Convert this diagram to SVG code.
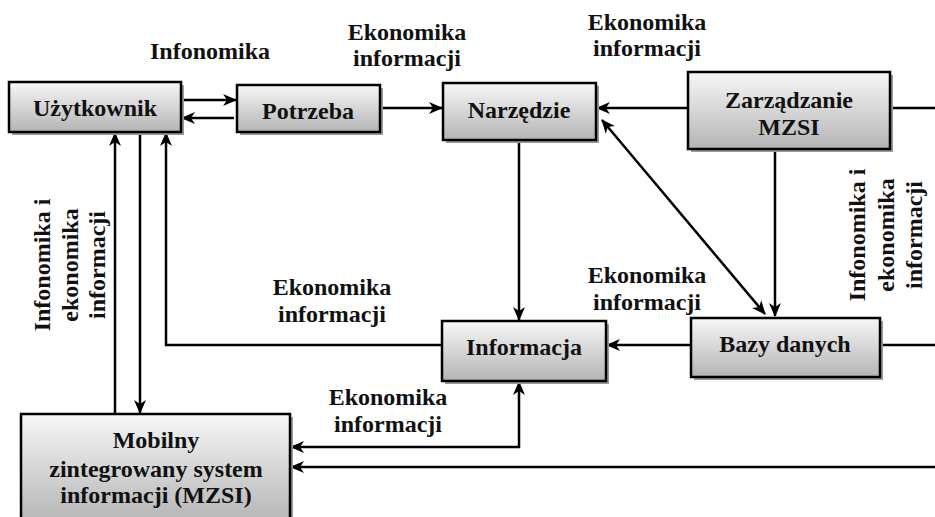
<svg xmlns="http://www.w3.org/2000/svg" width="935" height="517" viewBox="0 0 935 517" font-family="'Liberation Serif', 'DejaVu Serif', 'Times New Roman', serif">
<defs>
<linearGradient id="g" x1="0" y1="0" x2="0" y2="1">
<stop offset="0" stop-color="#f7f7f7"/>
<stop offset="1" stop-color="#b4b4b4"/>
</linearGradient>
<marker id="ah" markerUnits="userSpaceOnUse" markerWidth="16" markerHeight="16" viewBox="0 0 16 16" refX="14" refY="8" orient="auto-start-reverse">
<path d="M1,2 L15,8 L1,14 L5,8 z" fill="#000"/>
</marker>
</defs>
<style>
.box rect.b{fill:url(#g);stroke:#000;stroke-width:2.5}
.box rect.s{fill:#9a9a9a;stroke:none}
text{font-family:'Liberation Serif','DejaVu Serif','Times New Roman',serif;font-weight:bold;font-size:24px;fill:#111;text-anchor:middle}
#connectors path{fill:none;stroke:#000;stroke-width:2.5}
.a{marker-end:url(#ah)}
.d{marker-start:url(#ah);marker-end:url(#ah)}
</style>
<rect width="935" height="517" fill="#fff"/>

<g id="connectors">
<path class="a" d="M181,100 H236"/>
<path class="a" d="M234,118 H182"/>
<path class="a" d="M380,108 H442"/>
<path class="a" d="M688,108 H597"/>
<path d="M890,108 H935"/>
<path class="a" d="M775,149 V316"/>
<path class="d" d="M602,120 L765,314"/>
<path class="a" d="M519,140 V320"/>
<path class="a" d="M691,345 H607"/>
<path d="M880,345 H935"/>
<path class="a" d="M442,345 H166 V133"/>
<path class="a" d="M115,414 V133"/>
<path class="a" d="M140,132 V413"/>
<path class="d" d="M519,382 V447 H291"/>
<path class="a" d="M935,467 H291"/>
</g>

<g id="uzytkownik" class="box">
<rect class="s" x="12" y="85" width="172" height="50"/>
<rect class="b" x="9" y="82" width="172" height="50"/>
<text x="95" y="116">Użytkownik</text>
</g>
<g id="potrzeba" class="box">
<rect class="s" x="240" y="88" width="143" height="47"/>
<rect class="b" x="237" y="85" width="143" height="47"/>
<text x="308" y="119">Potrzeba</text>
</g>
<g id="narzedzie" class="box">
<rect class="s" x="446" y="86" width="153" height="57"/>
<rect class="b" x="443" y="83" width="153" height="57"/>
<text x="519" y="118">Narzędzie</text>
</g>
<g id="zarzadzanie" class="box">
<rect class="s" x="691" y="75" width="202" height="77"/>
<rect class="b" x="688" y="72" width="202" height="77"/>
<text x="789" y="108">Zarządzanie</text>
<text x="789" y="135">MZSI</text>
</g>
<g id="informacja" class="box">
<rect class="s" x="445" y="324" width="164" height="60"/>
<rect class="b" x="442" y="321" width="164" height="60"/>
<text x="524" y="355">Informacja</text>
</g>
<g id="bazy" class="box">
<rect class="s" x="694" y="321" width="189" height="59"/>
<rect class="b" x="691" y="318" width="189" height="59"/>
<text x="785" y="352">Bazy danych</text>
</g>
<g id="mzsi" class="box">
<rect class="s" x="24" y="417" width="269" height="110"/>
<rect class="b" x="21" y="414" width="269" height="110"/>
<text x="156" y="448">Mobilny</text>
<text x="156" y="477">zintegrowany system</text>
<text x="156" y="503">informacji (MZSI)</text>
</g>

<g id="labels">
<text x="210" y="59">Infonomika</text>
<text x="407" y="40">Ekonomika</text>
<text x="407" y="66">informacji</text>
<text x="647" y="30">Ekonomika</text>
<text x="647" y="56">informacji</text>
<text x="332" y="295">Ekonomika</text>
<text x="332" y="322">informacji</text>
<text x="647" y="283">Ekonomika</text>
<text x="647" y="310">informacji</text>
<text x="388" y="405">Ekonomika</text>
<text x="388" y="432">informacji</text>
<g transform="translate(0,265) rotate(-90)">
<text x="0" y="50">Infonomika i</text>
<text x="0" y="78">ekonomika</text>
<text x="0" y="105">informacji</text>
</g>
<g transform="translate(0,235) rotate(-90)">
<text x="0" y="865">Infonomika i</text>
<text x="0" y="894">ekonomika</text>
<text x="0" y="922">informacji</text>
</g>
</g>
</svg>
